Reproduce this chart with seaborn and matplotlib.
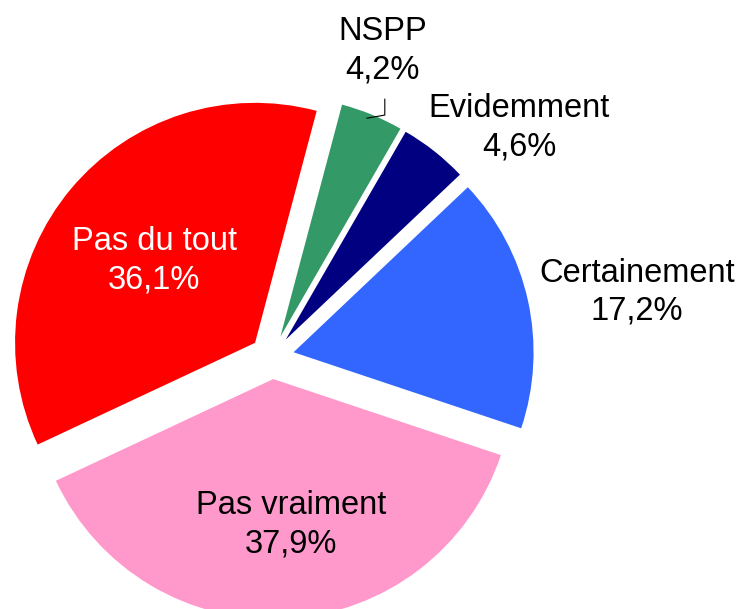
import matplotlib
matplotlib.use("Agg")
import matplotlib.pyplot as plt
import seaborn as sns

# Données du graphique
categories = ["Evidemment", "Certainement", "Pas vraiment", "Pas du tout", "NSPP"]
valeurs = [4.6, 17.2, 37.9, 36.1, 4.2]
couleurs = ["#000080", "#3366FF", "#FF99CC", "#FF0000", "#339966"]
couleurs_texte = ["black", "black", "black", "white", "black"]

# Position des étiquettes (coordonnées de l'axe, rayon = 1)
pos_etiquettes = [(1.03, 0.955), (1.52, 0.27), (0.08, -0.70), (-0.49, 0.40), (0.46, 1.275)]

sns.set_theme(style="white")
plt.rcParams['font.family'] = ['Liberation Sans', 'DejaVu Sans']

fig = plt.figure(figsize=(7.41, 6.09), dpi=100)
ax = fig.add_axes([0, 0, 1, 1])

ax.pie(valeurs, colors=couleurs, startangle=60, counterclock=False,
       explode=[0.092] * len(valeurs), radius=1.0,
       wedgeprops=dict(linewidth=0))

for cat, val, (x, y), c in zip(categories, valeurs, pos_etiquettes, couleurs_texte):
    texte = f"{cat}\n{val:.1f}".replace('.', ',') + "%"
    ax.text(x, y, texte, ha='center', va='center', fontsize=23.5,
            color=c, linespacing=1.3)

# Trait de rappel pour NSPP
ax.plot([0.47, 0.47, 0.395], [1.075, 1.008, 0.995], color='black', lw=0.8)

ax.set_xlim(-272 / 240, (741 - 272) / 240)
ax.set_ylim(-(609 - 357) / 240, 357 / 240)
ax.set_aspect('auto')
ax.axis('off')

plt.savefig('out.png', dpi=100, facecolor='white')
plt.close()
